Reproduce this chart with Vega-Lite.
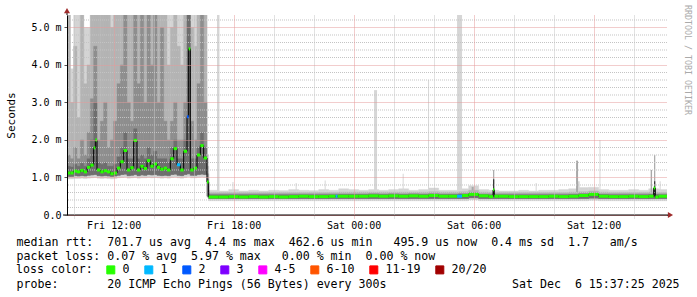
{
  "$schema": "https://vega.github.io/schema/vega-lite/v6.json",
  "width": 600,
  "height": 200,
  "autosize": {"type": "none"},
  "padding": {"left": 67, "top": 15, "right": 30, "bottom": 82},
  "background": "#ffffff",
  "config": {"view": {"stroke": null}, "font": "DejaVu Sans Mono"},
  "title": {"text": "RRDTOOL / TOBI OETIKER", "orient": "right", "anchor": "start", "frame": "group", "offset": 5, "font": "DejaVu Sans Mono", "fontSize": 8.3, "fontWeight": "normal", "color": "#aaaaaa", "dx": -10},
  "resolve": {"axis": {"y": "independent"}},
  "datasets": {
    "ygrid": [
      {"g": 0.2}, {"g": 0.4}, {"g": 0.6}, {"g": 0.8}, {"g": 1.2}, {"g": 1.4}, {"g": 1.6}, {"g": 1.8},
      {"g": 2.2}, {"g": 2.4}, {"g": 2.6}, {"g": 2.8}, {"g": 3.2}, {"g": 3.4}, {"g": 3.6}, {"g": 3.8},
      {"g": 4.2}, {"g": 4.4}, {"g": 4.6}, {"g": 4.8}, {"g": 5.2}
    ],
    "smoke": [
      {"t": 9.6667, "t2": 9.8333, "lo": 0.96, "l2": 1.03, "h1": 6, "h2": 6, "h3": 1.6, "h4": 1.3},
      {"t": 9.8333, "t2": 10, "lo": 0.96, "l2": 1.03, "h1": 3.9, "h2": 3.0, "h3": 1.5, "h4": 1.28},
      {"t": 10, "t2": 10.1667, "lo": 0.97, "l2": 1.05, "h1": 6, "h2": 4.5, "h3": 1.8, "h4": 1.35},
      {"t": 10.1667, "t2": 10.3333, "lo": 0.97, "l2": 1.04, "h1": 6, "h2": 2.6, "h3": 1.5, "h4": 1.3},
      {"t": 10.3333, "t2": 10.5, "lo": 0.98, "l2": 1.05, "h1": 6, "h2": 6, "h3": 2.0, "h4": 1.38},
      {"t": 10.5, "t2": 10.6667, "lo": 0.97, "l2": 1.04, "h1": 5.0, "h2": 3.5, "h3": 1.6, "h4": 1.3},
      {"t": 10.6667, "t2": 10.8333, "lo": 0.98, "l2": 1.06, "h1": 5.0, "h2": 4.0, "h3": 2.2, "h4": 1.5},
      {"t": 10.8333, "t2": 11, "lo": 0.99, "l2": 1.07, "h1": 6, "h2": 6, "h3": 3.1, "h4": 2.0},
      {"t": 11, "t2": 11.1667, "lo": 1.0, "l2": 1.08, "h1": 6, "h2": 6, "h3": 4.5, "h4": 3.0},
      {"t": 11.1667, "t2": 11.3333, "lo": 0.98, "l2": 1.05, "h1": 6, "h2": 6, "h3": 2.0, "h4": 1.4},
      {"t": 11.3333, "t2": 11.5, "lo": 0.97, "l2": 1.04, "h1": 6, "h2": 6, "h3": 2.5, "h4": 1.35},
      {"t": 11.5, "t2": 11.6667, "lo": 0.98, "l2": 1.05, "h1": 6, "h2": 6, "h3": 3.0, "h4": 1.4},
      {"t": 11.6667, "t2": 11.8333, "lo": 0.97, "l2": 1.04, "h1": 6, "h2": 6, "h3": 1.8, "h4": 1.3},
      {"t": 11.8333, "t2": 12, "lo": 0.96, "l2": 1.03, "h1": 6, "h2": 5.0, "h3": 2.0, "h4": 1.3},
      {"t": 12, "t2": 12.1667, "lo": 0.97, "l2": 1.04, "h1": 6, "h2": 6, "h3": 2.5, "h4": 1.35},
      {"t": 12.1667, "t2": 12.3333, "lo": 0.99, "l2": 1.06, "h1": 6, "h2": 6, "h3": 3.5, "h4": 1.55},
      {"t": 12.3333, "t2": 12.5, "lo": 1.0, "l2": 1.08, "h1": 6, "h2": 6, "h3": 4.0, "h4": 1.8},
      {"t": 12.5, "t2": 12.6667, "lo": 1.01, "l2": 1.09, "h1": 6, "h2": 6, "h3": 6, "h4": 2.2},
      {"t": 12.6667, "t2": 12.8333, "lo": 0.98, "l2": 1.05, "h1": 6, "h2": 6, "h3": 3.0, "h4": 1.5},
      {"t": 12.8333, "t2": 13, "lo": 0.99, "l2": 1.06, "h1": 6, "h2": 6, "h3": 2.5, "h4": 1.5},
      {"t": 13, "t2": 13.1667, "lo": 1.0, "l2": 1.08, "h1": 6, "h2": 6, "h3": 6, "h4": 2.3},
      {"t": 13.1667, "t2": 13.3333, "lo": 0.98, "l2": 1.05, "h1": 6, "h2": 6, "h3": 3.5, "h4": 1.5},
      {"t": 13.3333, "t2": 13.5, "lo": 0.99, "l2": 1.07, "h1": 6, "h2": 6, "h3": 6, "h4": 1.6},
      {"t": 13.5, "t2": 13.6667, "lo": 0.99, "l2": 1.06, "h1": 6, "h2": 6, "h3": 3.0, "h4": 1.5},
      {"t": 13.6667, "t2": 13.8333, "lo": 1.0, "l2": 1.08, "h1": 6, "h2": 6, "h3": 6, "h4": 1.8},
      {"t": 13.8333, "t2": 14, "lo": 0.99, "l2": 1.07, "h1": 6, "h2": 6, "h3": 4.0, "h4": 1.6},
      {"t": 14, "t2": 14.1667, "lo": 1.0, "l2": 1.08, "h1": 6, "h2": 6, "h3": 6, "h4": 1.7},
      {"t": 14.1667, "t2": 14.3333, "lo": 0.99, "l2": 1.06, "h1": 6, "h2": 6, "h3": 3.0, "h4": 1.5},
      {"t": 14.3333, "t2": 14.5, "lo": 0.98, "l2": 1.05, "h1": 6, "h2": 6, "h3": 5.0, "h4": 1.5},
      {"t": 14.5, "t2": 14.6667, "lo": 0.99, "l2": 1.06, "h1": 6, "h2": 6, "h3": 2.5, "h4": 1.5},
      {"t": 14.6667, "t2": 14.8333, "lo": 0.98, "l2": 1.05, "h1": 6, "h2": 4.0, "h3": 2.0, "h4": 1.4},
      {"t": 14.8333, "t2": 15, "lo": 1.0, "l2": 1.08, "h1": 6, "h2": 5.0, "h3": 2.5, "h4": 1.8},
      {"t": 15, "t2": 15.1667, "lo": 1.01, "l2": 1.09, "h1": 6, "h2": 6, "h3": 3.0, "h4": 2.0},
      {"t": 15.1667, "t2": 15.3333, "lo": 0.99, "l2": 1.06, "h1": 6, "h2": 4.5, "h3": 2.0, "h4": 1.5},
      {"t": 15.3333, "t2": 15.5, "lo": 0.98, "l2": 1.05, "h1": 6, "h2": 4.0, "h3": 2.0, "h4": 1.5},
      {"t": 15.5, "t2": 15.6667, "lo": 1.0, "l2": 1.08, "h1": 6, "h2": 6, "h3": 3.0, "h4": 2.0},
      {"t": 15.6667, "t2": 15.8333, "lo": 1.02, "l2": 1.1, "h1": 6, "h2": 6, "h3": 6, "h4": 6},
      {"t": 15.8333, "t2": 16, "lo": 0.99, "l2": 1.06, "h1": 6, "h2": 5.0, "h3": 2.5, "h4": 1.5},
      {"t": 16, "t2": 16.1667, "lo": 0.99, "l2": 1.06, "h1": 6, "h2": 4.5, "h3": 2.0, "h4": 1.5},
      {"t": 16.1667, "t2": 16.3333, "lo": 1.0, "l2": 1.08, "h1": 6, "h2": 6, "h3": 3.5, "h4": 1.8},
      {"t": 16.3333, "t2": 16.5, "lo": 1.01, "l2": 1.09, "h1": 6, "h2": 6, "h3": 6, "h4": 2.2},
      {"t": 16.5, "t2": 16.6667, "lo": 1.0, "l2": 1.08, "h1": 6, "h2": 6, "h3": 3.0, "h4": 1.8},
      {"t": 16.6667, "t2": 16.75, "lo": 0.46, "l2": 0.5, "h1": 1.6, "h2": 1.3, "h3": 1.1, "h4": 0.95},
      {"t": 16.75, "t2": 17.25, "lo": 0.38, "l2": 0.44, "h1": 0.66, "h2": 0.6, "h3": 0.56, "h4": 0.53},
      {"t": 17.25, "t2": 17.75, "lo": 0.38, "l2": 0.44, "h1": 0.64, "h2": 0.6, "h3": 0.56, "h4": 0.53},
      {"t": 17.75, "t2": 18.25, "lo": 0.38, "l2": 0.44, "h1": 0.68, "h2": 0.6, "h3": 0.56, "h4": 0.53},
      {"t": 18.25, "t2": 18.75, "lo": 0.38, "l2": 0.44, "h1": 0.64, "h2": 0.6, "h3": 0.56, "h4": 0.53},
      {"t": 18.75, "t2": 19.25, "lo": 0.38, "l2": 0.44, "h1": 0.66, "h2": 0.6, "h3": 0.56, "h4": 0.53},
      {"t": 19.25, "t2": 19.75, "lo": 0.38, "l2": 0.44, "h1": 0.64, "h2": 0.6, "h3": 0.56, "h4": 0.53},
      {"t": 19.75, "t2": 20.25, "lo": 0.38, "l2": 0.44, "h1": 0.66, "h2": 0.6, "h3": 0.56, "h4": 0.53},
      {"t": 20.25, "t2": 20.75, "lo": 0.38, "l2": 0.44, "h1": 0.65, "h2": 0.6, "h3": 0.56, "h4": 0.53},
      {"t": 20.75, "t2": 21.25, "lo": 0.38, "l2": 0.44, "h1": 0.68, "h2": 0.6, "h3": 0.56, "h4": 0.53},
      {"t": 21.25, "t2": 21.75, "lo": 0.38, "l2": 0.44, "h1": 0.66, "h2": 0.6, "h3": 0.56, "h4": 0.53},
      {"t": 21.75, "t2": 22.25, "lo": 0.38, "l2": 0.44, "h1": 0.65, "h2": 0.6, "h3": 0.56, "h4": 0.53},
      {"t": 22.25, "t2": 22.75, "lo": 0.38, "l2": 0.44, "h1": 0.68, "h2": 0.6, "h3": 0.56, "h4": 0.53},
      {"t": 22.75, "t2": 23.25, "lo": 0.38, "l2": 0.44, "h1": 0.66, "h2": 0.6, "h3": 0.56, "h4": 0.53},
      {"t": 23.25, "t2": 23.75, "lo": 0.38, "l2": 0.44, "h1": 0.7, "h2": 0.61, "h3": 0.56, "h4": 0.54},
      {"t": 23.75, "t2": 24.25, "lo": 0.38, "l2": 0.44, "h1": 0.68, "h2": 0.61, "h3": 0.56, "h4": 0.54},
      {"t": 24.25, "t2": 24.75, "lo": 0.38, "l2": 0.44, "h1": 0.66, "h2": 0.61, "h3": 0.56, "h4": 0.54},
      {"t": 24.75, "t2": 25.25, "lo": 0.38, "l2": 0.44, "h1": 0.68, "h2": 0.61, "h3": 0.57, "h4": 0.54},
      {"t": 25.25, "t2": 25.75, "lo": 0.38, "l2": 0.44, "h1": 0.66, "h2": 0.61, "h3": 0.56, "h4": 0.54},
      {"t": 25.75, "t2": 26.25, "lo": 0.38, "l2": 0.44, "h1": 0.68, "h2": 0.61, "h3": 0.57, "h4": 0.54},
      {"t": 26.25, "t2": 26.75, "lo": 0.38, "l2": 0.44, "h1": 0.7, "h2": 0.61, "h3": 0.56, "h4": 0.54},
      {"t": 26.75, "t2": 27.25, "lo": 0.38, "l2": 0.44, "h1": 0.66, "h2": 0.61, "h3": 0.57, "h4": 0.54},
      {"t": 27.25, "t2": 27.75, "lo": 0.38, "l2": 0.44, "h1": 0.68, "h2": 0.61, "h3": 0.56, "h4": 0.54},
      {"t": 27.75, "t2": 28.25, "lo": 0.38, "l2": 0.44, "h1": 0.72, "h2": 0.62, "h3": 0.57, "h4": 0.55},
      {"t": 28.25, "t2": 28.75, "lo": 0.38, "l2": 0.44, "h1": 0.66, "h2": 0.61, "h3": 0.56, "h4": 0.54},
      {"t": 28.75, "t2": 29.25, "lo": 0.38, "l2": 0.44, "h1": 0.66, "h2": 0.61, "h3": 0.56, "h4": 0.54},
      {"t": 29.25, "t2": 29.75, "lo": 0.38, "l2": 0.44, "h1": 0.7, "h2": 0.62, "h3": 0.57, "h4": 0.55},
      {"t": 29.75, "t2": 30.25, "lo": 0.4, "l2": 0.46, "h1": 0.78, "h2": 0.66, "h3": 0.6, "h4": 0.57},
      {"t": 30.25, "t2": 30.75, "lo": 0.38, "l2": 0.44, "h1": 0.68, "h2": 0.61, "h3": 0.56, "h4": 0.54},
      {"t": 30.75, "t2": 31.25, "lo": 0.38, "l2": 0.44, "h1": 0.66, "h2": 0.6, "h3": 0.56, "h4": 0.53},
      {"t": 31.25, "t2": 31.75, "lo": 0.38, "l2": 0.44, "h1": 0.64, "h2": 0.6, "h3": 0.56, "h4": 0.53},
      {"t": 31.75, "t2": 32.25, "lo": 0.38, "l2": 0.44, "h1": 0.64, "h2": 0.6, "h3": 0.56, "h4": 0.53},
      {"t": 32.25, "t2": 32.75, "lo": 0.38, "l2": 0.44, "h1": 0.66, "h2": 0.6, "h3": 0.56, "h4": 0.53},
      {"t": 32.75, "t2": 33.25, "lo": 0.38, "l2": 0.44, "h1": 0.64, "h2": 0.6, "h3": 0.56, "h4": 0.53},
      {"t": 33.25, "t2": 33.75, "lo": 0.38, "l2": 0.44, "h1": 0.66, "h2": 0.6, "h3": 0.56, "h4": 0.53},
      {"t": 33.75, "t2": 34.25, "lo": 0.38, "l2": 0.44, "h1": 0.66, "h2": 0.6, "h3": 0.56, "h4": 0.53},
      {"t": 34.25, "t2": 34.75, "lo": 0.38, "l2": 0.44, "h1": 0.68, "h2": 0.6, "h3": 0.56, "h4": 0.53},
      {"t": 34.75, "t2": 35.25, "lo": 0.38, "l2": 0.44, "h1": 0.7, "h2": 0.61, "h3": 0.56, "h4": 0.54},
      {"t": 35.25, "t2": 35.75, "lo": 0.38, "l2": 0.44, "h1": 0.73, "h2": 0.62, "h3": 0.58, "h4": 0.55},
      {"t": 35.75, "t2": 36.25, "lo": 0.39, "l2": 0.45, "h1": 0.74, "h2": 0.64, "h3": 0.59, "h4": 0.56},
      {"t": 36.25, "t2": 36.75, "lo": 0.38, "l2": 0.44, "h1": 0.68, "h2": 0.61, "h3": 0.56, "h4": 0.54},
      {"t": 36.75, "t2": 37.25, "lo": 0.38, "l2": 0.44, "h1": 0.66, "h2": 0.6, "h3": 0.56, "h4": 0.53},
      {"t": 37.25, "t2": 37.75, "lo": 0.38, "l2": 0.44, "h1": 0.66, "h2": 0.6, "h3": 0.56, "h4": 0.53},
      {"t": 37.75, "t2": 38.25, "lo": 0.38, "l2": 0.44, "h1": 0.68, "h2": 0.6, "h3": 0.56, "h4": 0.53},
      {"t": 38.25, "t2": 38.75, "lo": 0.38, "l2": 0.44, "h1": 0.66, "h2": 0.6, "h3": 0.56, "h4": 0.53},
      {"t": 38.75, "t2": 39.25, "lo": 0.38, "l2": 0.44, "h1": 0.7, "h2": 0.61, "h3": 0.56, "h4": 0.54},
      {"t": 39.25, "t2": 39.6667, "lo": 0.38, "l2": 0.44, "h1": 0.68, "h2": 0.6, "h3": 0.56, "h4": 0.53}
    ],
    "spike": [
      {"t": 17.167, "t2": 17.29, "b": 0.55, "hi": 6, "g": "l"},
      {"t": 17.94, "t2": 17.99, "b": 0.55, "hi": 0.88, "g": "l"},
      {"t": 21.1, "t2": 21.15, "b": 0.55, "hi": 0.85, "g": "l"},
      {"t": 22.55, "t2": 22.6, "b": 0.55, "hi": 0.92, "g": "l"},
      {"t": 25.02, "t2": 25.17, "b": 0.55, "hi": 3.33, "g": "l"},
      {"t": 26.45, "t2": 26.5, "b": 0.55, "hi": 1.1, "g": "l"},
      {"t": 27.72, "t2": 27.77, "b": 0.55, "hi": 3.6, "g": "l"},
      {"t": 29.17, "t2": 29.42, "b": 0.55, "hi": 6, "g": "l"},
      {"t": 29.9, "t2": 30.0, "b": 0.55, "hi": 0.75, "g": "m"},
      {"t": 30.97, "t2": 31.03, "b": 0.55, "hi": 1.2, "g": "m"},
      {"t": 30.97, "t2": 31.03, "b": 0.55, "hi": 0.95, "g": "d"},
      {"t": 33.1, "t2": 33.15, "b": 0.55, "hi": 0.85, "g": "l"},
      {"t": 35.12, "t2": 35.22, "b": 0.55, "hi": 1.45, "g": "m"},
      {"t": 35.22, "t2": 35.3, "b": 0.55, "hi": 0.9, "g": "l"},
      {"t": 36.29, "t2": 36.34, "b": 0.55, "hi": 2.0, "g": "l"},
      {"t": 38.85, "t2": 38.92, "b": 0.55, "hi": 1.2, "g": "m"},
      {"t": 39.02, "t2": 39.08, "b": 0.55, "hi": 1.6, "g": "m"},
      {"t": 39.02, "t2": 39.08, "b": 0.5, "hi": 0.9, "g": "d"},
      {"t": 39.3, "t2": 39.35, "b": 0.55, "hi": 0.9, "g": "l"}
    ],
    "med": [
      {"t": 9.6667, "t2": 9.8333, "m": 1.12, "loss": "0"},
      {"t": 9.8333, "t2": 10, "m": 1.12, "loss": "0"},
      {"t": 10, "t2": 10.1667, "m": 1.17, "loss": "0"},
      {"t": 10.1667, "t2": 10.3333, "m": 1.15, "loss": "0"},
      {"t": 10.3333, "t2": 10.5, "m": 1.19, "loss": "0"},
      {"t": 10.5, "t2": 10.6667, "m": 1.15, "loss": "0"},
      {"t": 10.6667, "t2": 10.8333, "m": 1.27, "loss": "0"},
      {"t": 10.8333, "t2": 11, "m": 1.33, "loss": "0"},
      {"t": 11, "t2": 11.0833, "m": 1.79, "loss": "0"},
      {"t": 11.0833, "t2": 11.1667, "m": 2.0, "loss": "0"},
      {"t": 11.1667, "t2": 11.3333, "m": 1.2, "loss": "0"},
      {"t": 11.3333, "t2": 11.5, "m": 1.15, "loss": "0"},
      {"t": 11.5, "t2": 11.6667, "m": 1.18, "loss": "0"},
      {"t": 11.6667, "t2": 11.8333, "m": 1.15, "loss": "0"},
      {"t": 11.8333, "t2": 12, "m": 1.1, "loss": "0"},
      {"t": 12, "t2": 12.1667, "m": 1.12, "loss": "0"},
      {"t": 12.1667, "t2": 12.3333, "m": 1.25, "loss": "0"},
      {"t": 12.3333, "t2": 12.5, "m": 1.42, "loss": "0"},
      {"t": 12.5, "t2": 12.6667, "m": 1.72, "loss": "0"},
      {"t": 12.6667, "t2": 12.8333, "m": 1.2, "loss": "0"},
      {"t": 12.8333, "t2": 13, "m": 1.26, "loss": "0"},
      {"t": 13, "t2": 13.1667, "m": 1.99, "loss": "0"},
      {"t": 13.1667, "t2": 13.3333, "m": 1.2, "loss": "0"},
      {"t": 13.3333, "t2": 13.5, "m": 1.3, "loss": "0"},
      {"t": 13.5, "t2": 13.6667, "m": 1.24, "loss": "0"},
      {"t": 13.6667, "t2": 13.8333, "m": 1.45, "loss": "0"},
      {"t": 13.8333, "t2": 14, "m": 1.3, "loss": "0"},
      {"t": 14, "t2": 14.1667, "m": 1.36, "loss": "0"},
      {"t": 14.1667, "t2": 14.3333, "m": 1.27, "loss": "0"},
      {"t": 14.3333, "t2": 14.5, "m": 1.22, "loss": "0"},
      {"t": 14.5, "t2": 14.6667, "m": 1.25, "loss": "0"},
      {"t": 14.6667, "t2": 14.8333, "m": 1.2, "loss": "0"},
      {"t": 14.8333, "t2": 15, "m": 1.5, "loss": "0"},
      {"t": 15, "t2": 15.1667, "m": 1.77, "loss": "0"},
      {"t": 15.1667, "t2": 15.3333, "m": 1.34, "loss": "1"},
      {"t": 15.3333, "t2": 15.5, "m": 1.2, "loss": "0"},
      {"t": 15.5, "t2": 15.6667, "m": 1.7, "loss": "0"},
      {"t": 15.6667, "t2": 15.75, "m": 2.62, "loss": "2"},
      {"t": 15.75, "t2": 15.8333, "m": 4.43, "loss": "0"},
      {"t": 15.8333, "t2": 16, "m": 1.2, "loss": "0"},
      {"t": 16, "t2": 16.1667, "m": 1.25, "loss": "0"},
      {"t": 16.1667, "t2": 16.3333, "m": 1.6, "loss": "0"},
      {"t": 16.3333, "t2": 16.5, "m": 1.85, "loss": "0"},
      {"t": 16.5, "t2": 16.6667, "m": 1.52, "loss": "0"},
      {"t": 16.6667, "t2": 16.75, "m": 0.88, "loss": "0"},
      {"t": 16.75, "t2": 17.25, "m": 0.48, "loss": "0"},
      {"t": 17.25, "t2": 17.75, "m": 0.48, "loss": "0"},
      {"t": 17.75, "t2": 18.25, "m": 0.49, "loss": "0"},
      {"t": 18.25, "t2": 18.75, "m": 0.48, "loss": "0"},
      {"t": 18.75, "t2": 19.25, "m": 0.49, "loss": "0"},
      {"t": 19.25, "t2": 19.75, "m": 0.48, "loss": "0"},
      {"t": 19.75, "t2": 20.25, "m": 0.49, "loss": "0"},
      {"t": 20.25, "t2": 20.75, "m": 0.48, "loss": "0"},
      {"t": 20.75, "t2": 21.25, "m": 0.49, "loss": "0"},
      {"t": 21.25, "t2": 21.75, "m": 0.5, "loss": "0"},
      {"t": 21.75, "t2": 22.25, "m": 0.49, "loss": "0"},
      {"t": 22.25, "t2": 22.75, "m": 0.49, "loss": "0"},
      {"t": 22.75, "t2": 23.1, "m": 0.5, "loss": "0"},
      {"t": 23.1, "t2": 23.2, "m": 0.5, "loss": "1"},
      {"t": 23.2, "t2": 23.75, "m": 0.5, "loss": "0"},
      {"t": 23.75, "t2": 24.25, "m": 0.5, "loss": "0"},
      {"t": 24.25, "t2": 24.75, "m": 0.5, "loss": "0"},
      {"t": 24.75, "t2": 25.25, "m": 0.51, "loss": "0"},
      {"t": 25.25, "t2": 25.75, "m": 0.5, "loss": "0"},
      {"t": 25.75, "t2": 26.25, "m": 0.51, "loss": "0"},
      {"t": 26.25, "t2": 26.75, "m": 0.5, "loss": "0"},
      {"t": 26.75, "t2": 27.25, "m": 0.51, "loss": "0"},
      {"t": 27.25, "t2": 27.75, "m": 0.5, "loss": "0"},
      {"t": 27.75, "t2": 28.25, "m": 0.52, "loss": "0"},
      {"t": 28.25, "t2": 28.75, "m": 0.5, "loss": "0"},
      {"t": 28.75, "t2": 29.17, "m": 0.5, "loss": "0"},
      {"t": 29.17, "t2": 29.42, "m": 0.5, "loss": "1"},
      {"t": 29.42, "t2": 29.75, "m": 0.52, "loss": "0"},
      {"t": 29.75, "t2": 30.25, "m": 0.55, "loss": "0"},
      {"t": 30.25, "t2": 30.75, "m": 0.51, "loss": "0"},
      {"t": 30.75, "t2": 30.97, "m": 0.49, "loss": "0"},
      {"t": 30.97, "t2": 31.03, "m": 0.67, "loss": "0"},
      {"t": 31.03, "t2": 31.25, "m": 0.5, "loss": "0"},
      {"t": 31.25, "t2": 31.75, "m": 0.5, "loss": "0"},
      {"t": 31.75, "t2": 32.25, "m": 0.49, "loss": "0"},
      {"t": 32.25, "t2": 32.75, "m": 0.49, "loss": "0"},
      {"t": 32.75, "t2": 33.25, "m": 0.49, "loss": "0"},
      {"t": 33.25, "t2": 33.75, "m": 0.49, "loss": "0"},
      {"t": 33.75, "t2": 34.25, "m": 0.5, "loss": "0"},
      {"t": 34.25, "t2": 34.75, "m": 0.49, "loss": "0"},
      {"t": 34.75, "t2": 35.25, "m": 0.5, "loss": "0"},
      {"t": 35.25, "t2": 35.75, "m": 0.52, "loss": "0"},
      {"t": 35.75, "t2": 36.25, "m": 0.55, "loss": "0"},
      {"t": 36.25, "t2": 36.75, "m": 0.5, "loss": "0"},
      {"t": 36.75, "t2": 37.25, "m": 0.49, "loss": "0"},
      {"t": 37.25, "t2": 37.75, "m": 0.49, "loss": "0"},
      {"t": 37.75, "t2": 38.25, "m": 0.5, "loss": "0"},
      {"t": 38.25, "t2": 38.75, "m": 0.49, "loss": "0"},
      {"t": 38.75, "t2": 39.0, "m": 0.5, "loss": "0"},
      {"t": 39.0, "t2": 39.08, "m": 0.72, "loss": "0"},
      {"t": 39.08, "t2": 39.25, "m": 0.48, "loss": "0"},
      {"t": 39.25, "t2": 39.6667, "m": 0.5, "loss": "0"}
    ]
  },
  "layer": [
    {
      "data": {"name": "smoke"},
      "mark": {"type": "rect", "clip": true, "color": "#d4d4d4", "stroke": "#d4d4d4", "strokeWidth": 0.4},
      "encoding": {
        "x": {
          "field": "t", "type": "quantitative",
          "scale": {"domain": [9.6667, 39.6667], "nice": false, "zero": false},
          "axis": {
            "values": [10, 11, 12, 13, 14, 15, 16, 17, 18, 19, 20, 21, 22, 23, 24, 25, 26, 27, 28, 29, 30, 31, 32, 33, 34, 35, 36, 37, 38, 39],
            "grid": true,
            "gridColor": {"condition": {"test": "datum.value % 3 === 0", "value": "#e49a9a"}, "value": "#c4c4c4"},
            "gridDash": [1, 1],
            "gridWidth": 1,
            "domain": true, "domainColor": "#000000", "domainWidth": 1,
            "ticks": true, "tickSize": 3,
            "tickColor": {"condition": {"test": "datum.value % 3 === 0", "value": "#e49a9a"}, "value": "#c4c4c4"},
            "tickDash": [1, 1],
            "labelExpr": "datum.value % 6 === 0 ? ((datum.value < 24 ? 'Fri ' : 'Sat ') + (datum.value % 24 < 10 ? '0' : '') + (datum.value % 24) + ':00') : ''",
            "labelFont": "DejaVu Sans Mono", "labelFontSize": 10, "labelColor": "#000000", "labelPadding": 2,
            "labelOverlap": false, "labelFlush": false, "labelBound": false,
            "title": [
              "median rtt:\u00a0\u00a0701.7 us avg\u00a0\u00a04.4 ms max\u00a0\u00a0462.6 us min\u00a0\u00a0\u00a0495.9 us now\u00a0\u00a00.4 ms sd\u00a0\u00a01.7\u00a0\u00a0\u00a0am/s",
              "packet loss: 0.07 % avg\u00a0\u00a05.97 % max\u00a0\u00a0\u00a00.00 % min\u00a0\u00a00.00 % now",
              "\u200b",
              "probe:\u00a0\u00a0\u00a0\u00a0\u00a0\u00a0\u00a020 ICMP Echo Pings (56 Bytes) every 300s\u00a0\u00a0\u00a0\u00a0\u00a0\u00a0\u00a0\u00a0\u00a0\u00a0\u00a0\u00a0\u00a0\u00a0\u00a0\u00a0\u00a0\u00a0Sat Dec\u00a0\u00a06 15:37:25 2025"
            ],
            "titleX": -51, "titleY": 30, "titleAlign": "left", "titleAnchor": "start", "titleBaseline": "alphabetic",
            "titleFont": "DejaVu Sans Mono", "titleFontSize": 11.6, "titleFontWeight": "normal", "titleColor": "#000000", "titleLineHeight": 14,
            "zindex": 1
          }
        },
        "x2": {"field": "t2"},
        "y": {
          "field": "lo", "type": "quantitative",
          "scale": {"domain": [0, 5.3333], "nice": false, "zero": false},
          "axis": {
            "orient": "left",
            "values": [0, 1, 2, 3, 4, 5],
            "grid": true,
            "gridColor": "#e49a9a",
            "gridDash": [1, 1],
            "gridWidth": 1,
            "domain": true, "domainColor": "#000000", "domainWidth": 1,
            "ticks": true, "tickSize": 3, "tickColor": "#555555",
            "labelExpr": "datum.value == 0 ? '0.0' : datum.value + '.0 m'",
            "labelFont": "DejaVu Sans Mono", "labelFontSize": 10, "labelColor": "#000000", "labelPadding": 3,
            "labelOverlap": false, "labelFlush": false, "labelBound": false,
            "title": "Seconds",
            "titleX": -56, "titleY": 100, "titleAngle": 270, "titleAlign": "center", "titleBaseline": "middle",
            "titleFont": "DejaVu Sans Mono", "titleFontSize": 11, "titleFontWeight": "normal", "titleColor": "#000000",
            "zindex": 2
          }
        },
        "y2": {"field": "h1"}
      }
    },
    {
      "data": {"name": "spike"},
      "transform": [{"filter": "datum.g == 'l'"}],
      "mark": {"type": "rect", "clip": true, "color": "#d6d6d6"},
      "encoding": {
        "x": {"field": "t", "type": "quantitative"},
        "x2": {"field": "t2"},
        "y": {"field": "b", "type": "quantitative", "axis": null},
        "y2": {"field": "hi"}
      }
    },
    {
      "data": {"name": "spike"},
      "transform": [{"filter": "datum.g == 'm'"}],
      "mark": {"type": "rect", "clip": true, "color": "#a8a8a8"},
      "encoding": {
        "x": {"field": "t", "type": "quantitative"},
        "x2": {"field": "t2"},
        "y": {"field": "b", "type": "quantitative", "axis": null},
        "y2": {"field": "hi"}
      }
    },
    {
      "data": {"name": "smoke"},
      "mark": {"type": "rect", "clip": true, "color": "#b4b4b4", "stroke": "#b4b4b4", "strokeWidth": 0.4},
      "encoding": {
        "x": {"field": "t", "type": "quantitative"},
        "x2": {"field": "t2"},
        "y": {"field": "l2", "type": "quantitative", "axis": null},
        "y2": {"field": "h2"}
      }
    },
    {
      "data": {"name": "smoke"},
      "mark": {"type": "rect", "clip": true, "color": "#8e8e8e", "stroke": "#8e8e8e", "strokeWidth": 0.4},
      "encoding": {
        "x": {"field": "t", "type": "quantitative"},
        "x2": {"field": "t2"},
        "y": {"field": "l2", "type": "quantitative", "axis": null},
        "y2": {"field": "h3"}
      }
    },
    {
      "data": {"name": "smoke"},
      "mark": {"type": "rect", "clip": true, "color": "#6e6e6e", "stroke": "#6e6e6e", "strokeWidth": 0.4},
      "encoding": {
        "x": {"field": "t", "type": "quantitative"},
        "x2": {"field": "t2"},
        "y": {"field": "l2", "type": "quantitative", "axis": null},
        "y2": {"field": "h4"}
      }
    },
    {
      "data": {"name": "spike"},
      "transform": [{"filter": "datum.g == 'd'"}],
      "mark": {"type": "rect", "clip": true, "color": "#333333"},
      "encoding": {
        "x": {"field": "t", "type": "quantitative"},
        "x2": {"field": "t2"},
        "y": {"field": "b", "type": "quantitative", "axis": null},
        "y2": {"field": "hi"}
      }
    },
    {
      "data": {"name": "ygrid"},
      "mark": {"type": "rule", "color": "#c4c4c4", "strokeWidth": 1, "strokeDash": [1, 1], "clip": true},
      "encoding": {
        "y": {"field": "g", "type": "quantitative", "axis": null}
      }
    },
    {
      "data": {"name": "med"},
      "mark": {"type": "line", "interpolate": "step-after", "color": "#000000", "strokeWidth": 1, "clip": true},
      "encoding": {
        "x": {"field": "t", "type": "quantitative"},
        "y": {"field": "m", "type": "quantitative", "axis": null}
      }
    },
    {
      "data": {"name": "med"},
      "mark": {"type": "rule", "strokeWidth": 3, "strokeCap": "butt", "clip": true},
      "encoding": {
        "x": {"field": "t", "type": "quantitative"},
        "x2": {"field": "t2"},
        "y": {"field": "m", "type": "quantitative", "axis": null},
        "color": {
          "field": "loss", "type": "nominal",
          "scale": {
            "domain": ["0", "1", "2", "3", "4-5", "6-10", "11-19", "20/20"],
            "range": ["#26ff00", "#00b8ff", "#0059ff", "#7e00ff", "#ff00ff", "#ff5500", "#ff0000", "#a10000"]
          },
          "legend": {
            "orient": "none", "legendX": -51, "legendY": 249, "direction": "horizontal",
            "title": "loss color:", "titleOrient": "left", "titleFont": "DejaVu Sans Mono", "titleFontSize": 11.6,
            "titleFontWeight": "normal", "titleColor": "#000000", "titlePadding": 12, "titleBaseline": "middle",
            "labelFont": "DejaVu Sans Mono", "labelFontSize": 11.6, "labelColor": "#000000", "labelOffset": 6,
            "columnPadding": 12, "symbolType": "square", "symbolSize": 64, "symbolStrokeWidth": 1, "symbolStrokeColor": "#000000",
            "symbolOpacity": 1,
            "encode": {"symbols": {
              "enter": {"stroke": {"value": "#000000"}, "strokeWidth": {"value": 1}, "strokeOpacity": {"value": 1}},
              "update": {"fill": {"scale": "color", "field": "value"}, "fillOpacity": {"value": 1}, "stroke": {"value": "#000000"}, "strokeWidth": {"value": 1}, "strokeOpacity": {"value": 1}, "shape": {"value": "square"}, "opacity": {"value": 1}}
            }}
          }
        }
      }
    },
    {
      "data": {"values": [{}]},
      "mark": {"type": "rule", "color": "#000000", "strokeWidth": 1, "clip": false},
      "encoding": {
        "x": {"datum": 9.6667, "type": "quantitative"},
        "y": {"datum": 5.3333, "type": "quantitative", "axis": null},
        "y2": {"datum": 5.45}
      }
    },
    {
      "data": {"values": [{}]},
      "mark": {"type": "rule", "color": "#000000", "strokeWidth": 1, "clip": false},
      "encoding": {
        "x": {"datum": 9.4667, "type": "quantitative"},
        "x2": {"datum": 39.84},
        "y": {"datum": 0, "type": "quantitative", "axis": null}
      }
    },
    {
      "data": {"values": [{}]},
      "mark": {"type": "point", "shape": "triangle-up", "filled": true, "size": 36, "color": "#9e2b2b", "opacity": 1, "clip": false},
      "encoding": {
        "x": {"datum": 9.6667, "type": "quantitative"},
        "y": {"datum": 5.45, "type": "quantitative", "axis": null}
      }
    },
    {
      "data": {"values": [{}]},
      "mark": {"type": "point", "shape": "triangle-right", "filled": true, "size": 36, "color": "#9e2b2b", "opacity": 1, "clip": false},
      "encoding": {
        "x": {"datum": 39.84, "type": "quantitative"},
        "y": {"datum": 0, "type": "quantitative", "axis": null}
      }
    }
  ]
}
